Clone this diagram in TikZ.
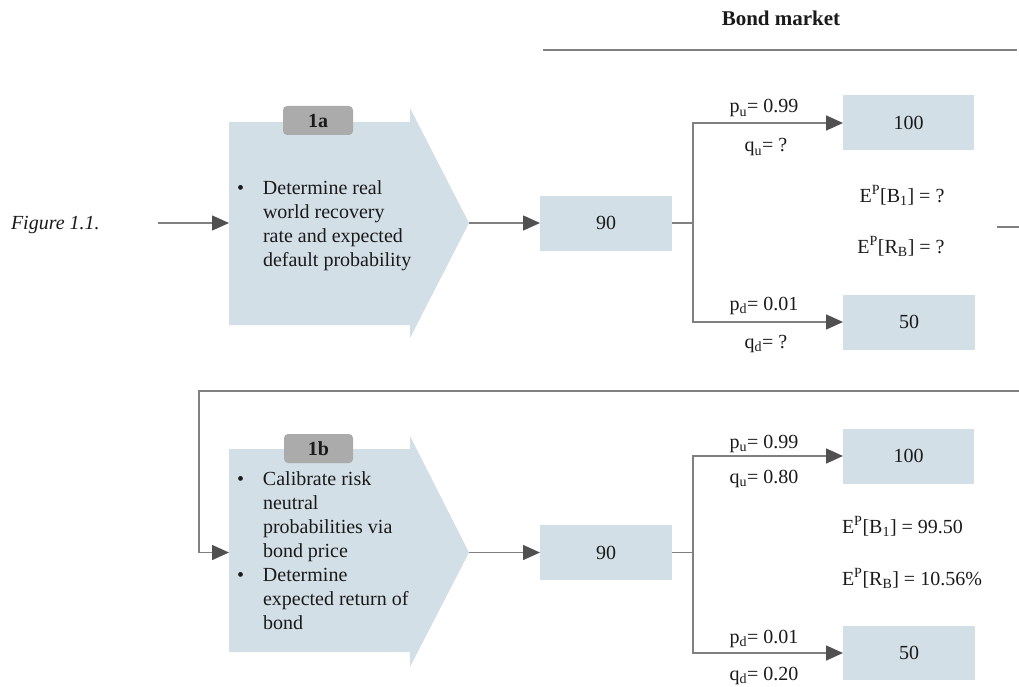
\documentclass[tikz,border=0pt]{standalone}
\usepackage{fontspec}
\setmainfont{Liberation Serif}
\usetikzlibrary{arrows.meta}
\definecolor{boxblue}{HTML}{D3DFE6}
\definecolor{tagg}{HTML}{ABABAB}
\definecolor{lineg}{HTML}{808080}
\definecolor{tipg}{HTML}{505050}
\definecolor{txt}{HTML}{1A1A1A}
\tikzset{
  every node/.style={text=txt, font=\fontsize{20}{24}\selectfont, inner sep=0pt, outer sep=0pt},
  conn/.style={draw=lineg, line width=1.5pt},
  arr/.style={conn, -{Triangle[length=17pt,width=15pt,color=tipg]}},
  valbox/.style={fill=boxblue, minimum width=132pt, minimum height=55pt},
  chev/.style={fill=boxblue},
  tagbox/.style={fill=tagg, rounded corners=4pt, minimum width=70pt, minimum height=29pt, font=\fontsize{20}{24}\selectfont\bfseries},
  lbl/.style={anchor=base},
}
\newcommand{\pl}[3]{#1\textsubscript{#2}= #3}
\begin{document}
\begin{tikzpicture}[x=1pt,y=-1pt]
\useasboundingbox (0,0) rectangle (1019,687);
% title
\node[anchor=base, font=\fontsize{21}{24}\selectfont\bfseries] (title) at (781,26) {Bond market};
\coordinate (tl) at (543,50);
\coordinate (tr) at (1017,50);
\draw[conn] (tl) -- (tr);
% figure label
\node[anchor=base west, font=\fontsize{20}{24}\selectfont\itshape] (fig) at (11,229) {Figure 1.1.};
% ---------- part 1a ----------
\fill[chev] (229,122) -- (410,122) -- (410,108) -- (469,223) -- (410,338) -- (410,325) -- (229,325) -- cycle;
\coordinate (c1in) at (229,223);
\coordinate (c1tip) at (469,223);
\coordinate (in1) at (158,223);
\node[tagbox] (tag1) at (318,120.5) {1a};
\node[anchor=base west, align=left] (t1) at (237,194) {\begin{tabular}[t]{@{}p{26pt}@{}l@{}}
\textbullet & Determine real\\
 & world recovery\\
 & rate and expected\\
 & default probability
\end{tabular}};
\node[valbox] (a90) at (606,223) {90};
\node[valbox, minimum width=131pt] (a100) at (908.5,123) {100};
\node[valbox] (a50) at (909,322) {50};
\draw[arr] (in1) -- (c1in);
\draw[arr] (c1tip) -- (a90.west);
\draw[conn] (a90.east) -- (693,223) coordinate (j1);
\draw[arr] (j1) |- (a100.west);
\draw[arr] (j1) |- (a50.west);
\node[lbl] (pu1) at (764,113) {\pl{p}{u}{0.99}};
\node[lbl] (qu1) at (766,152) {\pl{q}{u}{?}};
\node[lbl] (pd1) at (764,310) {\pl{p}{d}{0.01}};
\node[lbl] (qd1) at (766,348) {\pl{q}{d}{?}};
\node[lbl] (eb1) at (902,202) {E\textsuperscript{P}[B\textsubscript{1}] = ?};
\node[lbl] (er1) at (901,253) {E\textsuperscript{P}[R\textsubscript{B}] = ?};
% loop connector
\coordinate (o1) at (997,227);
\coordinate (o2) at (1019,227);
\draw[conn] (o1) -- (o2);
\coordinate (r1) at (1019,391);
\coordinate (l1) at (199,391);
% ---------- part 1b ----------
\fill[chev] (229,449) -- (410,449) -- (410,436) -- (469,552.5) -- (410,667) -- (410,652) -- (229,652) -- cycle;
\coordinate (c2in) at (229,552.5);
\coordinate (c2tip) at (469,552.5);
\draw[arr] (r1) -- (l1) |- (c2in);
\node[tagbox, minimum width=69pt] (tag2) at (318.5,448.5) {1b};
\node[anchor=base west, align=left] (t2) at (237,485) {\begin{tabular}[t]{@{}p{26pt}@{}l@{}}
\textbullet & Calibrate risk\\
 & neutral\\
 & probabilities via\\
 & bond price\\
\textbullet & Determine\\
 & expected return of\\
 & bond
\end{tabular}};
\node[valbox] (b90) at (606,552.5) {90};
\node[valbox, minimum width=131pt] (b100) at (908.5,456) {100};
\node[valbox, minimum height=54pt] (b50) at (909,653) {50};
\draw[arr] (c2tip) -- (b90.west);
\draw[conn] (b90.east) -- (693,552.5) coordinate (j2);
\draw[arr] (j2) |- (b100.west);
\draw[arr] (j2) |- (b50.west);
\node[lbl] (pu2) at (764,448) {\pl{p}{u}{0.99}};
\node[lbl] (qu2) at (764,483) {\pl{q}{u}{0.80}};
\node[lbl] (pd2) at (764,643) {\pl{p}{d}{0.01}};
\node[lbl] (qd2) at (764,680) {\pl{q}{d}{0.20}};
\node[anchor=base west] (eb2) at (842,533) {E\textsuperscript{P}[B\textsubscript{1}] = 99.50};
\node[anchor=base west] (er2) at (842,585) {E\textsuperscript{P}[R\textsubscript{B}] = 10.56\%};
\end{tikzpicture}
\end{document}
